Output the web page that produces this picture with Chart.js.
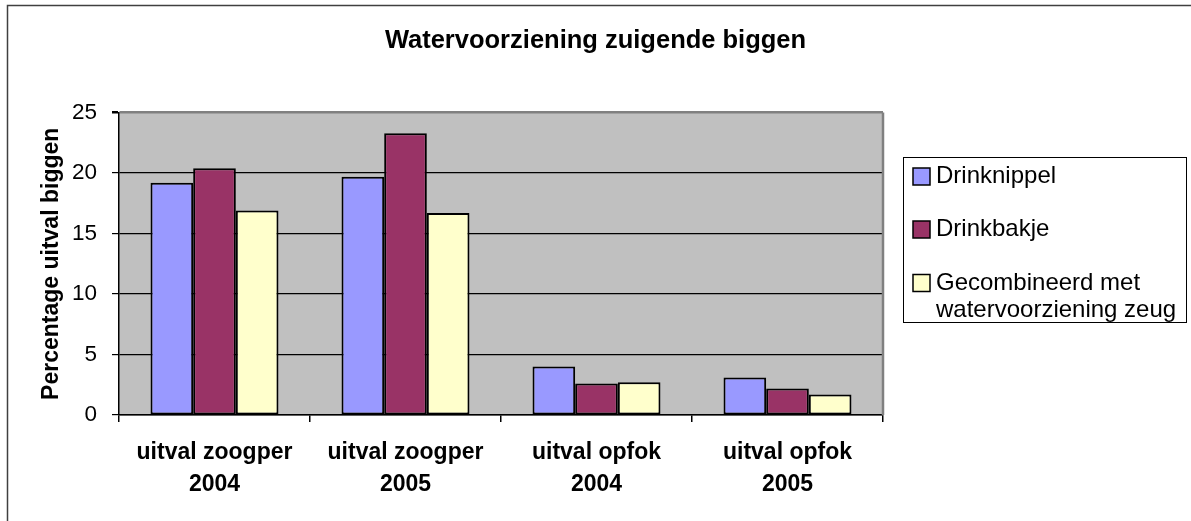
<!DOCTYPE html>
<html>
<head>
<meta charset="utf-8">
<script src="https://cdn.jsdelivr.net/npm/chart.js@4"></script>
<style>
  html, body { margin: 0; background: #fff; }
  #wrap { width: 1191px; height: 521px; }
</style>
</head>
<body>
<div id="wrap"><canvas id="chart"></canvas></div>
<script>
// ---- data ----
const categories = [["uitval zoogper", "2004"], ["uitval zoogper", "2005"], ["uitval opfok", "2004"], ["uitval opfok", "2005"]];
const seriesNames = ["Drinknippel", "Drinkbakje", "Gecombineerd met watervoorziening zeug"];
const drinknippel = [19.2, 19.7, 4.0, 3.1];
const drinkbakje = [20.4, 23.3, 2.6, 2.2];
const gecombineerd = [16.9, 16.7, 2.7, 1.7];
const seriesColors = ["#9999FF", "#993366", "#FFFFCC"];
const yMin = 0, yMax = 25, yStep = 5;

const FONT = "'Liberation Sans', Arial, sans-serif";
Chart.defaults.font.family = FONT;
Chart.defaults.color = "#000";

// gray plot area + outer frame, Excel style
const frame = {
  id: "frame",
  beforeDraw(chart) {
    const { ctx, chartArea: a } = chart;
    ctx.save();
    ctx.fillStyle = "#fff";
    ctx.fillRect(0, 0, chart.width, chart.height);
    ctx.strokeStyle = "#404040";
    ctx.lineWidth = 1.5;
    ctx.strokeRect(7.5, 5.5, 1400, 800);
    ctx.fillStyle = "#C0C0C0";
    ctx.fillRect(a.left, a.top, a.right - a.left, a.bottom - a.top);
    ctx.restore();
  },
  beforeDatasetsDraw(chart) {
    const { ctx, chartArea: a } = chart;
    ctx.save();
    ctx.strokeStyle = "#808080";
    ctx.lineWidth = 2.5;
    ctx.beginPath();
    ctx.moveTo(a.right, a.top);
    ctx.lineTo(a.right, a.bottom);
    ctx.stroke();
    ctx.restore();
  },
};

// boxed legend on the right, with wrapped labels
const boxLegend = {
  id: "boxLegend",
  afterDraw(chart) {
    const { ctx } = chart;
    const rowY = [176.5, 229.5, 283];
    const textX = 936, maxW = 248, lineH = 27;
    ctx.save();
    ctx.fillStyle = "#fff";
    ctx.fillRect(903.5, 157.5, 283, 165);
    ctx.strokeStyle = "#000";
    ctx.lineWidth = 1;
    ctx.strokeRect(903.5, 157.5, 283, 165);
    ctx.font = "24px " + FONT;
    ctx.textBaseline = "middle";
    chart.data.datasets.forEach((ds, i) => {
      const y = rowY[i];
      ctx.fillStyle = ds.backgroundColor;
      ctx.fillRect(913, y - 8.5, 17, 17);
      ctx.lineWidth = 1.5;
      ctx.strokeStyle = "#000";
      ctx.strokeRect(913, y - 8.5, 17, 17);
      // simple word wrap
      const words = ds.label.split(" ");
      const lines = [];
      let cur = "";
      for (const w of words) {
        const t = cur ? cur + " " + w : w;
        if (ctx.measureText(t).width > maxW && cur) { lines.push(cur); cur = w; }
        else cur = t;
      }
      lines.push(cur);
      ctx.fillStyle = "#000";
      lines.forEach((ln, k) => ctx.fillText(ln, textX, y + k * lineH));
    });
    ctx.restore();
  },
};

const series = [drinknippel, drinkbakje, gecombineerd];
const datasets = series.map((data, i) => ({
  label: seriesNames[i],
  data,
  backgroundColor: seriesColors[i],
  borderColor: "#000",
  borderWidth: 2,
  borderSkipped: false,
  categoryPercentage: 0.67,
  barPercentage: 1.0,
}));

new Chart(document.getElementById("chart"), {
  type: "bar",
  data: { labels: categories, datasets },
  options: {
    responsive: true,
    maintainAspectRatio: false,
    animation: false,
    layout: { padding: 0 },
    plugins: {
      legend: { display: false },
      tooltip: { enabled: false },
      title: {
        display: true,
        text: "Watervoorziening zuigende biggen",
        color: "#000",
        font: { size: 25.5, weight: "bold" },
        padding: { top: 26, bottom: 56 },
      },
    },
    scales: {
      x: {
        afterFit: (s) => { s.height = 106; },
        grid: { offset: true, drawOnChartArea: false, drawTicks: true, tickLength: 7, color: "#000", lineWidth: 1.5 },
        border: { color: "#000", width: 1.5 },
        ticks: { color: "#000", padding: 15, maxRotation: 0, autoSkip: false, font: { size: 23, weight: "bold", lineHeight: "32px" } },
      },
      y: {
        min: yMin,
        max: yMax,
        afterFit: (s) => { s.width = 119; },
        grid: {
          color: (c) => (c.tick && c.tick.value === yMax ? "#808080" : "#000"),
          lineWidth: (c) => (c.tick && c.tick.value === yMax ? 2.5 : 1.2),
          tickColor: "#000",
          tickLength: 7,
        },
        border: { color: "#000", width: 1.5 },
        ticks: { stepSize: yStep, color: "#000", padding: 15, font: { size: 22.5 } },
        title: {
          display: true,
          text: "Percentage uitval biggen",
          color: "#000",
          font: { size: 23, weight: "bold" },
          padding: { top: 38, bottom: 0 },
        },
      },
      // empty right-hand axis: only reserves room for the legend box
      spacer: {
        position: "right",
        afterFit: (s) => { s.width = 308; },
        grid: { display: false },
        border: { display: false },
        ticks: { display: false },
      },
    },
  },
  plugins: [frame, boxLegend],
});
</script>
</body>
</html>
